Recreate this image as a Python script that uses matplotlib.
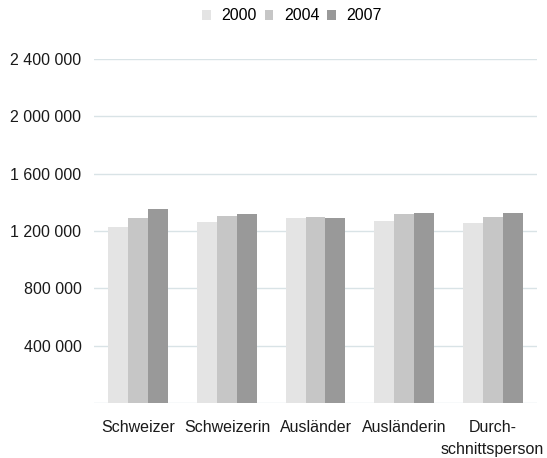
import matplotlib
matplotlib.use("Agg")
import matplotlib.pyplot as plt
import numpy as np
from matplotlib.ticker import FuncFormatter

plt.rcParams['font.family'] = ['Liberation Sans', 'DejaVu Sans']

categories = ["Schweizer", "Schweizerin", "Ausländer", "Ausländerin", "Durch-\nschnittsperson"]
years = ["2000", "2004", "2007"]
values_2000 = [1228000, 1263000, 1290000, 1270000, 1256000]
values_2004 = [1290000, 1304000, 1297000, 1318000, 1297000]
values_2007 = [1353000, 1318000, 1290000, 1325000, 1325000]
colors = ["#e4e4e4", "#c6c6c6", "#999999"]

fig = plt.figure(figsize=(5.47, 4.58), dpi=100)
ax = fig.add_axes([94 / 547, 1 - 403 / 458, (537 - 94) / 547, (403 - 59) / 458])

x = np.arange(len(categories))
w = 0.225
series = [values_2000, values_2004, values_2007]
for i, (vals, col, lab) in enumerate(zip(series, colors, years)):
    ax.bar(x + (i - 1) * w, vals, width=w, color=col, label=lab, zorder=3)

ax.set_xlim(-0.5, len(categories) - 0.5)
ax.set_ylim(0, 2400000)
ax.set_yticks(np.arange(400000, 2400001, 400000))
ax.yaxis.set_major_formatter(FuncFormatter(lambda v, p: f"{int(v):,}".replace(",", " ")))
ax.grid(axis="y", color="#d9e3e6", linewidth=1.0, zorder=0)
ax.axhline(0, color="#d9e3e6", linewidth=1.0, zorder=1)
for s in ax.spines.values():
    s.set_visible(False)
ax.tick_params(axis="both", length=0, labelsize=11.5, colors="#1a1a1a")
ax.tick_params(axis="y", pad=9)
ax.tick_params(axis="x", pad=12)
ax.set_xticks(x)
ax.set_xticklabels(categories, linespacing=1.6)

fig.legend(loc="center", bbox_to_anchor=(292 / 547, 1 - 16 / 458), ncol=3, frameon=False,
           fontsize=11.5, handlelength=0.55, handleheight=0.55, handletextpad=0.65,
           columnspacing=0.5, borderaxespad=0)

fig.savefig("out.png", dpi=100)
